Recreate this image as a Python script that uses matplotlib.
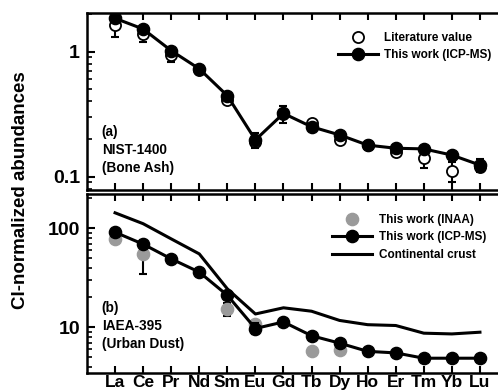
import matplotlib.pyplot as plt
import numpy as np
from matplotlib.ticker import LogLocator, NullFormatter

plt.rcParams["font.family"] = ["Liberation Sans", "DejaVu Sans"]
plt.rcParams["font.weight"] = "bold"

elements = ["La", "Ce", "Pr", "Nd", "Sm", "Eu", "Gd", "Tb", "Dy", "Ho", "Er", "Tm", "Yb", "Lu"]

# (a) NIST-1400 bone ash
nist_lit = [1.64, 1.38, 0.94, 0.72, 0.41, 0.19, 0.32, 0.267, 0.197, 0.178, 0.159, 0.14, 0.111, 0.12]
nist_lit_err = [0.32, 0.18, 0.11, 0, 0, 0, 0, 0, 0, 0, 0, 0.023, 0.02, 0]
nist_icp = [1.85, 1.52, 1.02, 0.73, 0.445, 0.197, 0.321, 0.251, 0.216, 0.179, 0.169, 0.167, 0.149, 0.124]
nist_icp_err = [0, 0, 0, 0, 0, 0.027, 0.05, 0, 0, 0, 0.01, 0, 0.01, 0.015]

# (b) IAEA-395 urban dust
iaea_inaa = [78, 55, np.nan, np.nan, 15.3, 10.8, np.nan, 5.7, 5.9, np.nan, np.nan, np.nan, np.nan, np.nan]
iaea_inaa_err = [0, 20.5, 0, 0, 2.2, 0, 0, 0, 0.5, 0, 0, 0, 0, 0]
iaea_icp = [91, 69, 49, 36, 21, 9.7, 11.3, 8.2, 6.9, 5.7, 5.5, 4.86, 4.86, 4.86]
iaea_icp_err = [0, 0, 0, 0, 0, 1.2, 0, 0, 0, 0, 0, 0, 0, 0]
crust = [143, 111, 78, 55, 24.4, 13.6, 15.7, 14.5, 11.7, 10.6, 10.4, 8.7, 8.55, 8.9]

x = np.arange(len(elements))

fig = plt.figure(figsize=(4.98, 3.91), dpi=100)
ax_a = fig.add_axes([0.1747, 0.5128, 0.8454, 0.4532])
ax_b = fig.add_axes([0.1747, 0.0468, 0.8454, 0.4558])


def with_err(vals, errs):
    vals = np.asarray(vals, dtype=float)
    errs = np.asarray(errs, dtype=float)
    keep = (errs > 0) & ~np.isnan(vals)
    return x[keep], vals[keep], errs[keep]


def style_axis(ax, ylim, yticks, ylabels):
    ax.set_yscale("log")
    ax.set_xlim(-1, len(elements))
    ax.set_ylim(*ylim)
    ax.set_yticks(yticks, ylabels)
    ax.yaxis.set_minor_locator(LogLocator(base=10, subs=np.arange(2, 10)))
    ax.yaxis.set_minor_formatter(NullFormatter())
    ax.set_xticks(x, elements)
    for side in ax.spines.values():
        side.set_linewidth(1.8)
    ax.tick_params(axis="x", which="major", direction="in", top=True, bottom=True,
                   length=5, width=1.5, labelsize=12.5, pad=1.5)
    ax.tick_params(axis="y", which="major", direction="in", length=6, width=1.5,
                   labelsize=14, pad=5)
    ax.tick_params(axis="y", which="minor", direction="in", length=3.5, width=1.2)


# panel (a)
ex, ev, ee = with_err(nist_lit, nist_lit_err)
ax_a.errorbar(ex, ev, yerr=ee, fmt="none", ecolor="black", elinewidth=1.5,
              capsize=3, capthick=1.5, zorder=2)
ax_a.plot(x, nist_lit, "o", ms=8, mfc="white", mec="black", mew=1.3,
          label="Literature value", zorder=2.5)
ex, ev, ee = with_err(nist_icp, nist_icp_err)
ax_a.errorbar(ex, ev, yerr=ee, fmt="none", ecolor="black", elinewidth=1.5,
              capsize=3, capthick=1.5, zorder=2.8)
ax_a.plot(x, nist_icp, "-o", color="black", lw=2.2, ms=8.8,
          label="This work (ICP-MS)", zorder=3)
style_axis(ax_a, (0.0776, 2.03), [0.1, 1], ["0.1", "1"])
ax_a.tick_params(axis="x", labelbottom=False)
ax_a.text(0.035, 0.37, "(a)\nNIST-1400\n(Bone Ash)", transform=ax_a.transAxes,
          fontsize=9.8, fontweight="bold", va="top", ha="left", linespacing=1.35)
ax_a.legend(loc="upper left", bbox_to_anchor=(0.596, 0.894), frameon=False,
            fontsize=8.5, handlelength=3.4, handletextpad=0.5, labelspacing=0.45,
            borderpad=0, borderaxespad=0)

# panel (b)
ex, ev, ee = with_err(iaea_inaa, iaea_inaa_err)
ax_b.errorbar(ex, ev, yerr=ee, fmt="none", ecolor="black", elinewidth=1.5,
              capsize=3, capthick=1.5, zorder=2)
ax_b.plot(x, iaea_inaa, "o", ms=8.8, color="#9a9a9a", label="This work (INAA)", zorder=2.5)
ex, ev, ee = with_err(iaea_icp, iaea_icp_err)
ax_b.errorbar(ex, ev, yerr=ee, fmt="none", ecolor="black", elinewidth=1.5,
              capsize=3, capthick=1.5, zorder=2.8)
ax_b.plot(x, iaea_icp, "-o", color="black", lw=2.2, ms=8.8,
          label="This work (ICP-MS)", zorder=3)
ax_b.plot(x, crust, "-", color="black", lw=2.2, label="Continental crust", zorder=3)
style_axis(ax_b, (3.47, 219), [10, 100], ["10", "100"])
ax_b.text(0.035, 0.40, "(b)\nIAEA-395\n(Urban Dust)", transform=ax_b.transAxes,
          fontsize=9.8, fontweight="bold", va="top", ha="left", linespacing=1.35)
ax_b.legend(loc="upper left", bbox_to_anchor=(0.582, 0.890), frameon=False,
            fontsize=8.5, handlelength=3.4, handletextpad=0.6, labelspacing=0.45,
            borderpad=0, borderaxespad=0)

fig.text(0.042, 0.514, "CI-normalized abundances", rotation=90, fontsize=13.5,
         fontweight="bold", ha="center", va="center")

fig.savefig("out.png", dpi=100)
